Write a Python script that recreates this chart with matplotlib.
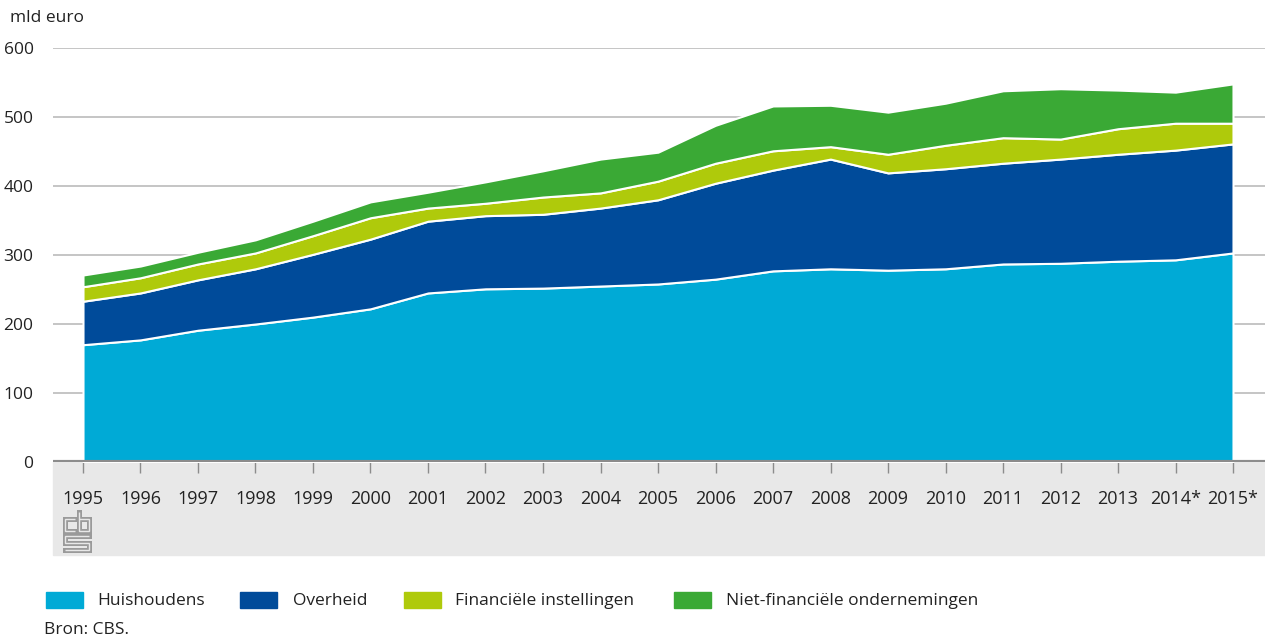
import matplotlib
matplotlib.use("Agg")
from matplotlib import pyplot as plt
from matplotlib.patches import Rectangle
from matplotlib.lines import Line2D

plt.rcParams['font.family'] = ['Open Sans', 'DejaVu Sans']

years = list(range(1995, 2016))
year_labels = [str(y) for y in range(1995, 2014)] + ["2014*", "2015*"]

# mld euro per sector
huishoudens = [170, 177, 191, 200, 210, 222, 245, 251, 252, 255, 258, 265, 277, 280, 278, 280, 287, 288, 291, 293, 303]
overheid = [63, 68, 73, 80, 91, 101, 104, 106, 107, 113, 122, 139, 146, 159, 141, 145, 146, 151, 155, 159, 158]
financieel = [21, 22, 23, 23, 27, 31, 19, 18, 25, 22, 27, 29, 28, 18, 27, 34, 37, 29, 37, 39, 30]
niet_financieel = [17, 17, 17, 19, 21, 23, 23, 31, 38, 49, 42, 55, 65, 60, 61, 61, 68, 73, 56, 45, 57]

labels = ["Huishoudens", "Overheid", "Financiële instellingen", "Niet-financiële ondernemingen"]
colors = ["#00aad6", "#004b9a", "#afca0b", "#3aa935"]

W, H = 1265, 641
fig = plt.figure(figsize=(W / 100, H / 100), dpi=100)
txt = "#222222"
fs = 12.5

def px(x, y):
    return x / W, 1 - y / H

# grey band under the axis
fig.patches.append(Rectangle(px(53, 555), (W - 53) / W, 93 / H,
                             transform=fig.transFigure, color="#e8e8e8", zorder=-1))

ax = fig.add_axes([53 / W, 1 - 462 / H, (W - 53) / W, 414 / H])
ax.set_facecolor("none")
ax.stackplot(years, huishoudens, overheid, financieel, niet_financieel,
             colors=colors, edgecolor="white", linewidth=1.5, zorder=2)

ax.set_xlim(1995 - 30 / 57.5, 2015 + 32 / 57.5)
ax.set_ylim(0, 600)
ax.set_yticks(range(0, 601, 100))
ax.yaxis.grid(True, color="#c0c0c0", linewidth=1.3, zorder=0)
ax.set_axisbelow(True)
for s in ax.spines.values():
    s.set_visible(False)
ax.axhline(0, color="#8c8c8c", linewidth=3, zorder=3)

ax.set_xticks(years)
ax.set_xticklabels(year_labels)
ax.tick_params(axis="x", length=8, color="#8c8c8c", width=1, pad=12, labelsize=13, labelcolor=txt)
ax.tick_params(axis="y", length=0, pad=14, labelsize=fs, labelcolor=txt)

fig.text(*px(10, 18), "mld euro", fontsize=fs, color=txt, va="center")

# cbs logo (simplified outline)
logo = [
    [(75, 519), (64.5, 519), (64.5, 531), (75, 531)],
    [(78.5, 512), (78.5, 531), (89, 531), (89, 519), (78.5, 519)],
    [(89, 535.5), (64.5, 535.5), (64.5, 542.5), (89, 542.5), (89, 549.5), (64.5, 549.5)],
]
for pts in logo:
    xs, ys = zip(*[px(*p) for p in pts])
    fig.add_artist(Line2D(xs, ys, color="#9a9a9a", linewidth=3.6, transform=fig.transFigure,
                          solid_joinstyle="miter", solid_capstyle="projecting"))
    fig.add_artist(Line2D(xs, ys, color="#e8e8e8", linewidth=1.0, transform=fig.transFigure,
                          solid_joinstyle="miter", solid_capstyle="butt"))

# legend
swatch_x = [46, 240, 404, 674]
text_x = [97, 293, 455, 726]
for c, lab, sx, tx in zip(colors, labels, swatch_x, text_x):
    fig.patches.append(Rectangle(px(sx, 608), 37 / W, 16 / H, transform=fig.transFigure,
                                 color=c, zorder=1))
    fig.text(*px(tx, 601), lab, fontsize=fs, color=txt, va="center")

fig.text(*px(44, 630), "Bron: CBS.", fontsize=fs, color=txt, va="center")

fig.savefig("out.png", dpi=100)
